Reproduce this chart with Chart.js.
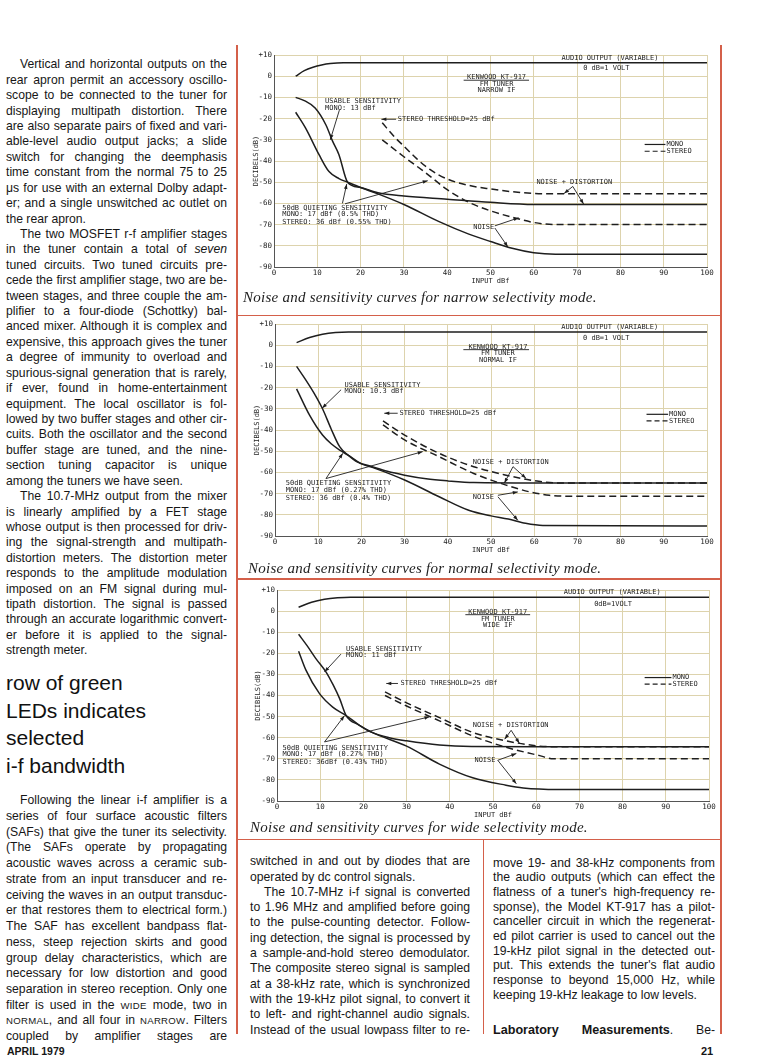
<!DOCTYPE html>
<html>
<head>
<meta charset="utf-8">
<script src="https://cdn.jsdelivr.net/npm/chart.js@4.4.0/dist/chart.umd.min.js"></script>
<style>
html, body { margin: 0; padding: 0; background: #fff; }
body { width: 764px; height: 1064px; position: relative; overflow: hidden;
       font-family: "Liberation Sans", Arial, sans-serif; color: #161616; }
.col { position: absolute; font-size: 12.2px; }
.col div { white-space: nowrap; }
.ind { padding-left: 14px; }
.sc { font-size: 9.6px; letter-spacing: 0.3px; }
.head { position: absolute; left: 6px; top: 669px; font-size: 21px; line-height: 27.7px; color: #111; }
.cap { position: absolute; font-family: "Liberation Serif", serif; font-style: italic; font-size: 15px;
       line-height: 18px; color: #222; white-space: nowrap; letter-spacing: 0.25px; }
.rule { position: absolute; background: #d4604a; }
canvas { position: absolute; }
.foot { position: absolute; font-weight: bold; font-size: 10.5px; top: 1045px; }
</style>
</head>
<body>

<!-- red frame lines -->
<div class="rule" style="left:236px; top:45px; width:1.5px; height:989px;"></div>
<div class="rule" style="left:720px; top:45px; width:1.5px; height:989px;"></div>
<div class="rule" style="left:236px; top:314.5px; width:486px; height:1.5px;"></div>
<div class="rule" style="left:236px; top:578px; width:486px; height:1.5px;"></div>
<div class="rule" style="left:236px; top:838.5px; width:486px; height:1.5px;"></div>
<div class="rule" style="left:482.5px; top:839px; width:1.5px; height:195px;"></div>

<div class="col" data-w="221" style="left:6px; top:57.3px; line-height:15.42px;">
<div class="j ind">Vertical and horizontal outputs on the</div>
<div class="j">rear apron permit an accessory oscillo-</div>
<div class="j">scope to be connected to the tuner for</div>
<div class="j">displaying multipath distortion. There</div>
<div class="j">are also separate pairs of fixed and vari-</div>
<div class="j">able-level audio output jacks; a slide</div>
<div class="j">switch for changing the deemphasis</div>
<div class="j">time constant from the normal 75 to 25</div>
<div class="j">μs for use with an external Dolby adapt-</div>
<div class="j">er; and a single unswitched ac outlet on</div>
<div>the rear apron.</div>
<div class="j ind">The two MOSFET r-f amplifier stages</div>
<div class="j">in the tuner contain a total of <i>seven</i></div>
<div class="j">tuned circuits. Two tuned circuits pre-</div>
<div class="j">cede the first amplifier stage, two are be-</div>
<div class="j">tween stages, and three couple the am-</div>
<div class="j">plifier to a four-diode (Schottky) bal-</div>
<div class="j">anced mixer. Although it is complex and</div>
<div class="j">expensive, this approach gives the tuner</div>
<div class="j">a degree of immunity to overload and</div>
<div class="j">spurious-signal generation that is rarely,</div>
<div class="j">if ever, found in home-entertainment</div>
<div class="j">equipment. The local oscillator is fol-</div>
<div class="j">lowed by two buffer stages and other cir-</div>
<div class="j">cuits. Both the oscillator and the second</div>
<div class="j">buffer stage are tuned, and the nine-</div>
<div class="j">section tuning capacitor is unique</div>
<div>among the tuners we have seen.</div>
<div class="j ind">The 10.7-MHz output from the mixer</div>
<div class="j">is linearly amplified by a FET stage</div>
<div class="j">whose output is then processed for driv-</div>
<div class="j">ing the signal-strength and multipath-</div>
<div class="j">distortion meters. The distortion meter</div>
<div class="j">responds to the amplitude modulation</div>
<div class="j">imposed on an FM signal during mul-</div>
<div class="j">tipath distortion. The signal is passed</div>
<div class="j">through an accurate logarithmic convert-</div>
<div class="j">er before it is applied to the signal-</div>
<div>strength meter.</div>
</div>

<div class="head">row of green<br>LEDs indicates<br>selected<br>i-f bandwidth</div>

<div class="col" data-w="221" style="left:6px; top:793.2px; line-height:15.73px;">
<div class="j ind">Following the linear i-f amplifier is a</div>
<div class="j">series of four surface acoustic filters</div>
<div class="j">(SAFs) that give the tuner its selectivity.</div>
<div class="j">(The SAFs operate by propagating</div>
<div class="j">acoustic waves across a ceramic sub-</div>
<div class="j">strate from an input transducer and re-</div>
<div class="j">ceiving the waves in an output transduc-</div>
<div class="j">er that restores them to electrical form.)</div>
<div class="j">The SAF has excellent bandpass flat-</div>
<div class="j">ness, steep rejection skirts and good</div>
<div class="j">group delay characteristics, which are</div>
<div class="j">necessary for low distortion and good</div>
<div class="j">separation in stereo reception. Only one</div>
<div class="j">filter is used in the <span class="sc">WIDE</span> mode, two in</div>
<div class="j"><span class="sc">NORMAL</span>, and all four in <span class="sc">NARROW</span>. Filters</div>
<div class="j">coupled by amplifier stages are</div>
</div>

<div class="col" data-w="220" style="left:250px; top:854.3px; line-height:15.3px;">
<div class="j">switched in and out by diodes that are</div>
<div>operated by dc control signals.</div>
<div class="j ind">The 10.7-MHz i-f signal is converted</div>
<div class="j">to 1.96 MHz and amplified before going</div>
<div class="j">to the pulse-counting detector. Follow-</div>
<div class="j">ing detection, the signal is processed by</div>
<div class="j">a sample-and-hold stereo demodulator.</div>
<div class="j">The composite stereo signal is sampled</div>
<div class="j">at a 38-kHz rate, which is synchronized</div>
<div class="j">with the 19-kHz pilot signal, to convert it</div>
<div class="j">to left- and right-channel audio signals.</div>
<div class="j">Instead of the usual lowpass filter to re-</div>
</div>

<div class="col" data-w="222" style="left:493px; top:855.7px; line-height:14.65px;">
<div class="j">move 19- and 38-kHz components from</div>
<div class="j">the audio outputs (which can effect the</div>
<div class="j">flatness of a tuner's high-frequency re-</div>
<div class="j">sponse), the Model KT-917 has a pilot-</div>
<div class="j">canceller circuit in which the regenerat-</div>
<div class="j">ed pilot carrier is used to cancel out the</div>
<div class="j">19-kHz pilot signal in the detected out-</div>
<div class="j">put. This extends the tuner's flat audio</div>
<div class="j">response to beyond 15,000 Hz, while</div>
<div>keeping 19-kHz leakage to low levels.</div>
<div style="height:21px"></div>
<div class="j"><b style="font-size:12.6px">Laboratory Measurements</b>. Be-</div>
</div>

<div class="foot" style="left:7px;">APRIL 1979</div>
<div class="foot" style="left:701px; font-size:11px;">21</div>

<canvas id="narrow" width="482" height="242" style="left:238px; top:47px;"></canvas>
<div class="cap" style="left:243px; top:288px;">Noise and sensitivity curves for narrow selectivity mode.</div>

<canvas id="normal" width="482" height="242" style="left:238px; top:316px;"></canvas>
<div class="cap" style="left:248px; top:559px;">Noise and sensitivity curves for normal selectivity mode.</div>

<canvas id="wide" width="482" height="241" style="left:238px; top:582px;"></canvas>
<div class="cap" style="left:250px; top:818px;">Noise and sensitivity curves for wide selectivity mode.</div>

<script>
// axis ticks
const inputTicks = [0, 10, 20, 30, 40, 50, 60, 70, 80, 90, 100];
const dbTicks = [10, 0, -10, -20, -30, -40, -50, -60, -70, -80, -90];

// [input dBf, dB]
const narrowAudio = [[5, 0], [7, 2.6], [9, 4.2], [11, 5.3], [13, 6], [16, 6.4], [100, 6.4]];
const narrowMonoNoiseDist = [[5, -10], [7, -11.5], [9.5, -15], [12, -23], [13.5, -30.5], [15, -37], [17, -50], [20, -52.5], [24, -55], [30, -56.5], [40, -58], [50, -59.5], [60, -60.5], [100, -60.5]];
const narrowMonoNoise = [[5, -17], [7.3, -24.5], [10.4, -37], [12.7, -45], [15, -48.3], [17, -50], [20, -52.5], [24, -55.5], [30, -60.5], [38, -68.5], [45, -74.5], [50, -78], [55, -81.2], [60, -83.3], [65, -84], [100, -84]];
const narrowStereoNoiseDist = [[25, -22], [28, -29], [30, -33], [33, -39], [36, -44], [40, -48.5], [45, -51.5], [50, -53.2], [55, -54.5], [60, -55.3], [65, -55.5], [100, -55.5]];
const narrowStereoNoise = [[25, -30], [30, -38], [35, -45.5], [40, -53.5], [45, -59.5], [50, -63.5], [55, -66.5], [60, -69], [65, -70], [100, -70]];

const normalAudio = [[5, 1.2], [8, 3.6], [11, 5.2], [14, 6], [17, 6.2], [100, 6.2]];
const normalMonoNoiseDist = [[5, -10], [7, -16], [9, -22.5], [11, -30], [13, -39.5], [15, -48], [17, -52], [19, -55], [22.5, -57.3], [26, -59.5], [30, -61.3], [35, -63], [40, -64], [46, -64.8], [60, -65], [100, -65]];
const normalMonoNoise = [[5, -20.6], [8, -33], [11, -42.4], [13, -46.5], [15, -49.5], [17, -52], [20, -56], [23, -58], [30, -63.6], [38, -71.5], [45, -78], [50, -80.5], [54, -82], [58, -84], [62, -85], [100, -85.3]];
const normalStereoNoiseDist = [[25, -35.7], [30, -42.4], [38, -51], [46, -57.3], [53.5, -61.3], [58, -63.2], [62, -64.5], [66, -65], [100, -65]];
const normalStereoNoise = [[25, -37.6], [30, -44.7], [38, -52.6], [46, -60.5], [53.5, -66], [59, -69.2], [63.5, -70.8], [67, -71.2], [100, -71.2]];

const wideAudio = [[5, 1.8], [8, 4.2], [11, 5.6], [14, 6.3], [17, 6.6], [100, 6.6]];
const wideMonoNoiseDist = [[5, -11], [7, -16.5], [9, -22.5], [11.4, -29], [13, -35], [14.5, -41.5], [16, -49.5], [19, -54], [22, -57.5], [26, -60], [30, -61.5], [37.6, -63.5], [45, -64.2], [60, -64.3], [100, -64.3]];
const wideMonoNoise = [[5, -19], [6.7, -28], [9.8, -39], [12.9, -45.5], [16, -49.5], [19, -54], [22, -57.5], [30, -64], [37.6, -72.5], [45.3, -79], [53, -82.5], [57, -83.8], [65, -84.5], [100, -84.5]];
const wideStereoNoiseDist = [[25, -38.3], [30, -43.5], [37.6, -50.5], [45.3, -57.5], [53, -61.5], [60.8, -64], [65, -64.3], [100, -64.3]];
const wideStereoNoise = [[25, -40], [30, -45], [37.6, -52], [45.3, -59.2], [53, -64.5], [60.8, -68.5], [64, -70], [100, -70]];

const INK = '#1e1e1e';
const MONO = '"DejaVu Sans Mono", "Liberation Mono", monospace';
const GRID = '#ddd3ad';

// lettering on each plot, placed in axis units
const narrowNotes = {
    texts: [
        ['AUDIO OUTPUT (VARIABLE)', 77.6, 8.7, 'center'],
        ['0 dB=1 VOLT', 71.4, 3.7, 'left'],
        ['KENWOOD KT-917', 51.4, -0.6, 'center'],
        ['FM TUNER', 51.4, -3.7, 'center'],
        ['NARROW IF', 51.4, -6.5, 'center'],
        ['USABLE SENSITIVITY', 11.8, -12, 'left'],
        ['MONO: 13 dBf', 11.8, -14.9, 'left'],
        ['STEREO THRESHOLD=25 dBf', 28.6, -20.3, 'left'],
        ['NOISE + DISTORTION', 60.6, -49.8, 'left'],
        ['NOISE', 46, -71.1, 'left'],
        ['50dB QUIETING SENSITIVITY', 1.9, -62.4, 'left'],
        ['MONO: 17 dBf (0.5% THD)', 1.9, -65.3, 'left'],
        ['STEREO: 36 dBf (0.55% THD)', 1.9, -68.7, 'left']
    ],
    arrows: [
        [15.1, -16, 13, -30],
        [28.2, -20.3, 24.8, -20.3],
        [69, -52, 67, -55.3],
        [69, -52, 71.5, -60.3],
        [51, -70.6, 56.5, -66.8],
        [51, -71.6, 54, -80.5],
        [15.8, -60, 16.8, -50.8],
        [16.4, -60.2, 35.5, -49.3]
    ],
    rules: [[43.8, 58.9, -1.9]],
    key: { x0: 85.6, x1: 90.4, solid: -32.2, dash: -35.4 },
    yTitlePad: 13.8
};

const normalNotes = {
    texts: [
        ['AUDIO OUTPUT (VARIABLE)', 77.5, 8.4, 'center'],
        ['0 dB=1 VOLT', 71.3, 3.1, 'left'],
        ['KENWOOD KT-917', 51.6, -0.9, 'center'],
        ['FM TUNER', 51.6, -4, 'center'],
        ['NORMAL IF', 51.6, -6.9, 'center'],
        ['USABLE SENSITIVITY', 16.1, -18.7, 'left'],
        ['MONO: 10.3 dBf', 16.1, -21.5, 'left'],
        ['STEREO THRESHOLD=25 dBf', 28.8, -32.1, 'left'],
        ['NOISE + DISTORTION', 45.8, -55, 'left'],
        ['NOISE', 45.8, -71.5, 'left'],
        ['50dB QUIETING SENSITIVITY', 2.5, -65.2, 'left'],
        ['MONO: 17 dBf (0.27% THD)', 2.5, -68.4, 'left'],
        ['STEREO: 36 dBf (0.4% THD)', 2.5, -72, 'left']
    ],
    arrows: [
        [15.3, -21, 10.9, -29.7],
        [28.4, -32.1, 25.3, -32.1],
        [55.1, -57.3, 53.1, -65],
        [55.1, -57.3, 58.1, -62.8],
        [51.6, -70.8, 56.2, -69.2],
        [51.6, -71.5, 56.2, -82.6],
        [11.8, -62.9, 15.7, -51],
        [11.8, -62.9, 34.2, -50.2]
    ],
    rules: [[43.6, 58.8, -2.1]],
    key: { x0: 86, x1: 91, solid: -32.6, dash: -35.7 },
    yTitlePad: 14.5
};

const wideNotes = {
    texts: [
        ['AUDIO OUTPUT (VARIABLE)', 77.6, 9, 'center'],
        ['0dB=1VOLT', 77.8, 3.4, 'center'],
        ['KENWOOD KT-917', 51.1, -0.3, 'center'],
        ['FM TUNER', 51.1, -3.8, 'center'],
        ['WIDE IF', 51.1, -6.6, 'center'],
        ['USABLE SENSITIVITY', 16, -18.2, 'left'],
        ['MONO: 11 dBf', 16, -21, 'left'],
        ['STEREO THRESHOLD=25 dBf', 28.6, -34.3, 'left'],
        ['NOISE + DISTORTION', 45.3, -54.1, 'left'],
        ['NOISE', 45.7, -70.7, 'left'],
        ['50dB QUIETING SENSITIVITY', 1.3, -64.8, 'left'],
        ['MONO: 17 dBf (0.27% THD)', 1.3, -68, 'left'],
        ['STEREO: 36dBf (0.43% THD)', 1.3, -71.6, 'left']
    ],
    arrows: [
        [14.8, -20.4, 11, -28.8],
        [28, -34.3, 25.3, -34.3],
        [54.2, -56.5, 52.7, -60.7],
        [54.2, -56.5, 56.1, -62.6],
        [51.1, -70.7, 55.4, -67.5],
        [51.1, -70.7, 55.4, -81.8],
        [11, -62, 15.6, -49.6],
        [11, -62, 35.3, -50.1]
    ],
    rules: [[43.6, 58.6, -1.7]],
    key: { x0: 85.1, x1: 91.3, solid: -31.5, dash: -34.6 },
    yTitlePad: 15.8
};

function drawArrow(ctx, x1, y1, x2, y2) {
    ctx.beginPath();
    ctx.moveTo(x1, y1);
    ctx.lineTo(x2, y2);
    ctx.stroke();
    const a = Math.atan2(y2 - y1, x2 - x1);
    const L = 5, W = 1.8;
    ctx.beginPath();
    ctx.moveTo(x2, y2);
    ctx.lineTo(x2 - L * Math.cos(a) + W * Math.sin(a), y2 - L * Math.sin(a) - W * Math.cos(a));
    ctx.lineTo(x2 - L * Math.cos(a) - W * Math.sin(a), y2 - L * Math.sin(a) + W * Math.cos(a));
    ctx.closePath();
    ctx.fill();
}

const notesPlugin = {
    id: 'notes',
    afterDatasetsDraw(chart, args, opts) {
        const n = opts.notes;
        if (!n) return;
        const { ctx } = chart;
        const x = chart.scales.x, y = chart.scales.y;
        ctx.save();
        ctx.fillStyle = INK;
        ctx.strokeStyle = INK;
        ctx.lineWidth = 0.9;
        ctx.font = '7px ' + MONO;
        ctx.textBaseline = 'middle';
        n.texts.forEach(t => {
            ctx.textAlign = t[3];
            ctx.fillText(t[0], x.getPixelForValue(t[1]), y.getPixelForValue(t[2]));
        });
        n.arrows.forEach(a => {
            drawArrow(ctx, x.getPixelForValue(a[0]), y.getPixelForValue(a[1]),
                x.getPixelForValue(a[2]), y.getPixelForValue(a[3]));
        });
        n.rules.forEach(r => {
            ctx.beginPath();
            ctx.moveTo(x.getPixelForValue(r[0]), y.getPixelForValue(r[2]));
            ctx.lineTo(x.getPixelForValue(r[1]), y.getPixelForValue(r[2]));
            ctx.stroke();
        });
        // mono / stereo key
        const k = n.key;
        const kx0 = x.getPixelForValue(k.x0), kx1 = x.getPixelForValue(k.x1);
        ctx.lineWidth = 1.2;
        ctx.beginPath();
        ctx.moveTo(kx0, y.getPixelForValue(k.solid));
        ctx.lineTo(kx1, y.getPixelForValue(k.solid));
        ctx.stroke();
        ctx.setLineDash([5, 3]);
        ctx.beginPath();
        ctx.moveTo(kx0, y.getPixelForValue(k.dash));
        ctx.lineTo(kx1, y.getPixelForValue(k.dash));
        ctx.stroke();
        ctx.setLineDash([]);
        ctx.textAlign = 'left';
        ctx.fillText('MONO', kx1 + 1, y.getPixelForValue(k.solid));
        ctx.fillText('STEREO', kx1 + 1, y.getPixelForValue(k.dash));
        ctx.restore();
    }
};

function series(points, dashed) {
    return {
        data: points.map(p => ({ x: p[0], y: p[1] })),
        borderColor: INK,
        borderWidth: 1.5,
        borderDash: dashed ? [7, 4] : [],
        pointRadius: 0,
        cubicInterpolationMode: 'monotone',
        fill: false
    };
}

function makeChart(id, lines, notes, padRight) {
    const ctx = document.getElementById(id).getContext('2d');
    return new Chart(ctx, {
        type: 'line',
        data: {
            datasets: [
                series(lines[0], false),
                series(lines[1], false),
                series(lines[2], false),
                series(lines[3], true),
                series(lines[4], true)
            ]
        },
        options: {
            responsive: false,
            animation: false,
            layout: { padding: { top: 8, right: padRight, left: 0, bottom: 0 } },
            plugins: {
                legend: { display: false },
                tooltip: { enabled: false },
                notes: { notes: notes }
            },
            scales: {
                x: {
                    type: 'linear',
                    min: 0,
                    max: 100,
                    afterBuildTicks: s => { s.ticks = inputTicks.map(v => ({ value: v })); },
                    afterFit: s => { s.height = 22; },
                    grid: { color: GRID, drawTicks: false },
                    border: { color: '#555', width: 1 },
                    ticks: { font: { family: MONO, size: 7.5 }, color: '#222', padding: 2, maxRotation: 0, autoSkip: false },
                    title: { display: true, text: 'INPUT dBf', font: { family: MONO, size: 7 }, color: '#222', padding: { top: 0, bottom: 3.8 } }
                },
                y: {
                    type: 'linear',
                    min: -90,
                    max: 10,
                    afterBuildTicks: s => { s.ticks = dbTicks.map(v => ({ value: v })); },
                    afterFit: s => { s.width = notes.yWidth; },
                    grid: { color: GRID, drawTicks: false },
                    border: { color: '#555', width: 1 },
                    ticks: {
                        font: { family: MONO, size: 7.5 }, color: '#222', padding: 2, autoSkip: false,
                        callback: v => v > 0 ? '+' + v : String(v)
                    },
                    title: { display: true, text: 'DECIBELS(dB)', font: { family: MONO, size: 7 }, color: '#222', padding: { top: notes.yTitlePad, bottom: 0 } }
                }
            }
        },
        plugins: [notesPlugin]
    });
}

narrowNotes.yWidth = 36;
normalNotes.yWidth = 37;
wideNotes.yWidth = 39;

makeChart('narrow', [narrowAudio, narrowMonoNoiseDist, narrowMonoNoise, narrowStereoNoiseDist, narrowStereoNoise], narrowNotes, 13);
makeChart('normal', [normalAudio, normalMonoNoiseDist, normalMonoNoise, normalStereoNoiseDist, normalStereoNoise], normalNotes, 13);
makeChart('wide', [wideAudio, wideMonoNoiseDist, wideMonoNoise, wideStereoNoiseDist, wideStereoNoise], wideNotes, 11);

// justify each printed line to its column width
function justifyLines() {
    document.querySelectorAll('.col').forEach(col => {
        const w = parseFloat(col.dataset.w);
        col.querySelectorAll('.j').forEach(line => {
            const span = document.createElement('span');
            while (line.firstChild) span.appendChild(line.firstChild);
            line.appendChild(span);
            const indent = line.classList.contains('ind') ? 14 : 0;
            const natural = span.getBoundingClientRect().width;
            const gaps = (span.textContent.match(/ /g) || []).length;
            if (gaps > 0) span.style.wordSpacing = ((w - indent - natural) / gaps) + 'px';
        });
    });
}
if (document.fonts && document.fonts.ready) document.fonts.ready.then(justifyLines);
else justifyLines();
</script>
</body>
</html>
